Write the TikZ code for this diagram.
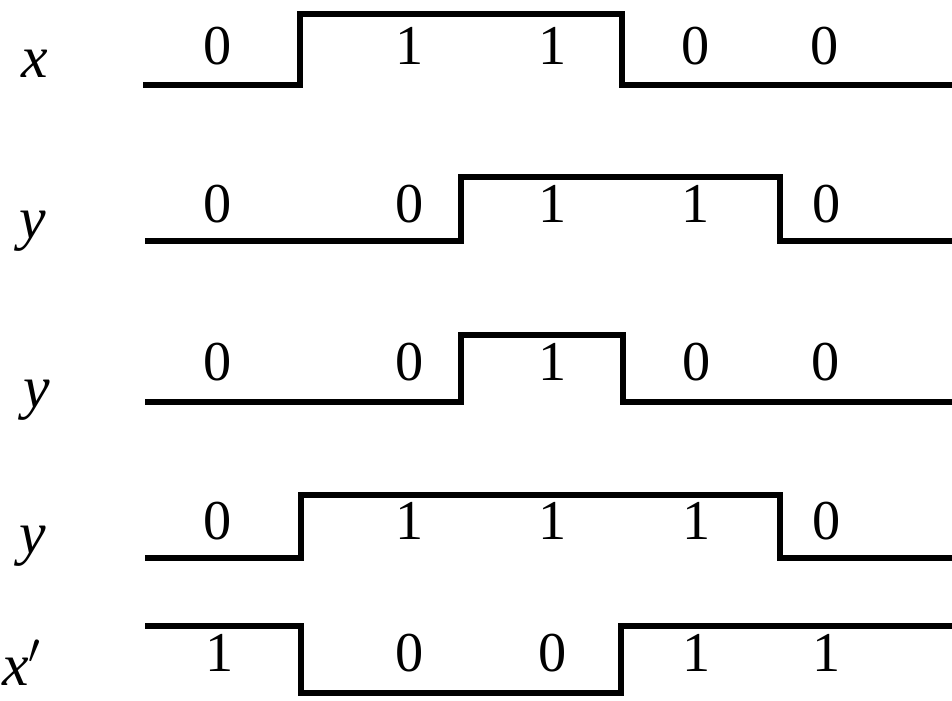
\documentclass[tikz,border=0pt]{standalone}
\usepackage{fontspec}
\setmainfont{Liberation Serif}
\usepackage{tikz}
\tikzset{
  wave/.style={line width=1.8pt, line join=miter},
  bit/.style={font=\fontsize{16}{19}\selectfont, inner sep=0pt},
  signame/.style={font=\fontsize{17}{20}\selectfont\itshape, inner sep=0pt},
}
\begin{document}
\begin{tikzpicture}[x=0.01cm,y=-0.01cm]
  \useasboundingbox (0,0) rectangle (952,701);
  % row 1: x
  \node[signame] (lblx) at (35,64) {x};
  \draw[wave] (143,85) -- (300,85) -- (300,14) -- (622,14) -- (622,85) -- (952,85);
  \foreach \px/\d [count=\i] in {218/0,410/1,553/1,696/0,825/0}
    \node[bit] (xa\i) at (\px,46) {\d};
  % row 2: y
  \node[signame] (lbly) at (33,231) {y};
  \draw[wave] (145,241) -- (461,241) -- (461,177) -- (780,177) -- (780,241) -- (952,241);
  \foreach \px/\d [count=\i] in {218/0,410/0,553/1,696/1,827/0}
    \node[bit] (ya\i) at (\px,204) {\d};
  % row 3: y
  \node[signame] (lblyb) at (37,400) {y};
  \draw[wave] (145,402) -- (461,402) -- (461,335) -- (623,335) -- (623,402) -- (952,402);
  \foreach \px/\d [count=\i] in {218/0,410/0,553/1,697/0,826/0}
    \node[bit] (yb\i) at (\px,362) {\d};
  % row 4: y
  \node[signame] (lblyc) at (33,546) {y};
  \draw[wave] (145,558) -- (301,558) -- (301,495) -- (780,495) -- (780,558) -- (952,558);
  \foreach \px/\d [count=\i] in {218/0,410/1,553/1,697/1,827/0}
    \node[bit] (yc\i) at (\px,521) {\d};
  % row 5: x'
  \node[signame] (lblxp) at (22,663) {x$'$};
  \draw[wave] (145,626) -- (301,626) -- (301,693) -- (621,693) -- (621,626) -- (952,626);
  \foreach \px/\d [count=\i] in {220/1,410/0,553/0,697/1,827/1}
    \node[bit] (xp\i) at (\px,653) {\d};
\end{tikzpicture}
\end{document}
